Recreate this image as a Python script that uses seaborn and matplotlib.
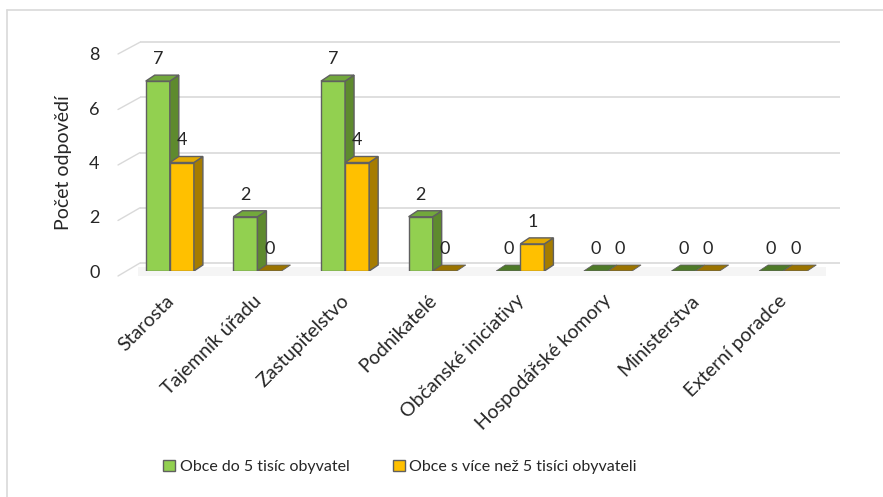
import matplotlib
matplotlib.use("Agg")
import matplotlib.pyplot as plt
import matplotlib.patches as mpatches
import matplotlib.transforms as mtransforms
from matplotlib.lines import Line2D
import seaborn as sns
import pandas as pd

categories = ["Starosta", "Tajemník úřadu", "Zastupitelstvo", "Podnikatelé",
              "Občanské iniciativy", "Hospodářské komory", "Ministerstva", "Externí poradce"]
series_names = ["Obce do 5 tisíc obyvatel", "Obce s více než 5 tisíci obyvateli"]
values_small = [7, 2, 7, 2, 0, 0, 0, 0]
values_large = [4, 0, 4, 0, 1, 0, 0, 0]
y_ticks = [0, 2, 4, 6, 8]
y_label = "Počet odpovědí"

df = pd.DataFrame({
    "kategorie": categories * 2,
    "serie": [series_names[0]] * len(categories) + [series_names[1]] * len(categories),
    "hodnota": values_small + values_large,
})

sns.set_style("white")
plt.rcParams["font.family"] = ["Lato", "DejaVu Sans"]

W, H = 883, 497
fig = plt.figure(figsize=(W / 100, H / 100), dpi=100)

# axes geometry in pixels
x_left, x_right = 126, 827
y_zero, y_top = 271, 54
ax = fig.add_axes([x_left / W, (H - y_zero) / H, (x_right - x_left) / W, (y_zero - y_top) / H])

front = {series_names[0]: "#92D050", series_names[1]: "#FFC000"}
top_c = {series_names[0]: "#72A83C", series_names[1]: "#E2AA00"}
side_c = {series_names[0]: "#5E8A2E", series_names[1]: "#A67C00"}
zero_c = {series_names[0]: "#4E7A28", series_names[1]: "#9A7300"}

sns.barplot(data=df, x="kategorie", y="hodnota", hue="serie", order=categories,
            hue_order=series_names, palette=front, width=0.55, dodge=True,
            edgecolor="#606060", linewidth=1.0, ax=ax, legend=False, saturation=1)

n = len(categories)
ax.set_xlim(-0.5, n - 0.5)
ax.set_ylim(0, 8)

px_x = (x_right - x_left) / n                  # pixels per x unit
px_y = (y_zero - y_top) / 8.0                  # pixels per y unit
ddx = 9 / px_x
ddy = 6 / px_y


def dx(px):
    return -0.5 + (px - x_left) / px_x


def dy(px):
    return (y_zero - px) / px_y


# back wall gridlines + diagonal connectors
for t in y_ticks:
    yb = dy(263 - t * 27.6)
    yf = dy(276 - t * 27.75)
    ax.plot([dx(140), dx(840)], [yb, yb], color="#D9D9D9", lw=1.2, zorder=0, clip_on=False,
            solid_capstyle="butt")
    ax.plot([dx(118), dx(140)], [yf, yb], color="#D9D9D9", lw=1.0, zorder=0, clip_on=False)

# faint floor shadow
ax.add_patch(mpatches.Rectangle((dx(138), dy(276)), dx(826) - dx(138), dy(267) - dy(276),
                                facecolor="#F5F5F5", edgecolor="none", zorder=0.5, clip_on=False))

# 3D faces built from the library's bars
bars = [b for b in ax.patches if isinstance(b, mpatches.Rectangle) and 0 < b.get_width() < 1]
for i, b in enumerate(bars[: 2 * n]):
    s = series_names[i // n]
    z = 2 if s == series_names[0] else 3
    b.set_zorder(z)
    x0 = b.get_x()
    w = b.get_width()
    h = b.get_height()
    x1 = x0 + w
    if h > 0:
        side = mpatches.Polygon([(x1, 0), (x1 + ddx, ddy), (x1 + ddx, h + ddy), (x1, h)],
                                closed=True, facecolor=side_c[s], edgecolor="#606060", lw=1.0, zorder=z)
        ax.add_patch(side)
        topf = mpatches.Polygon([(x0, h), (x0 + ddx, h + ddy), (x1 + ddx, h + ddy), (x1, h)],
                                closed=True, facecolor=top_c[s], edgecolor="#606060", lw=1.0, zorder=z)
        ax.add_patch(topf)
    else:
        b.set_visible(False)
        topf = mpatches.Polygon([(x0, 0), (x0 + ddx, ddy), (x1 + ddx, ddy), (x1, 0)],
                                closed=True, facecolor=zero_c[s], edgecolor="#606060", lw=0.6, zorder=z)
        ax.add_patch(topf)
    ax.annotate(f"{int(h)}", (x0 + w / 2, h), xytext=(0, 16), textcoords="offset points",
                ha="center", va="center", fontsize=13, color="#262626", zorder=5)

for sp in ax.spines.values():
    sp.set_visible(False)
ax.set_yticks(y_ticks)
ax.set_yticklabels([str(t) for t in y_ticks], fontsize=13, color="#262626")
ax.tick_params(axis="y", length=0, pad=19)
ax.set_ylabel(y_label, fontsize=14, color="#262626", labelpad=12)
ax.set_xlabel("")
ax.set_xticks(range(n))
ax.set_xticklabels(categories, rotation=45, ha="right", rotation_mode="anchor",
                   fontsize=14, color="#262626")
ax.tick_params(axis="x", length=0, pad=15)
shift = mtransforms.ScaledTranslation(-5 / 100, 0, fig.dpi_scale_trans)
for lab in ax.get_xticklabels():
    lab.set_transform(lab.get_transform() + shift)
ax.grid(False)
ax.set_facecolor("none")

handles = [mpatches.Patch(facecolor=front[s], edgecolor="#606060", lw=1.0, label=s) for s in series_names]
fig.legend(handles=handles, loc="center", bbox_to_anchor=(400 / W, (H - 467) / H), ncol=2,
           frameon=False, fontsize=11.5, handlelength=0.75, handleheight=0.75,
           handletextpad=0.3, columnspacing=2.7)

# outer frame (left and top edges visible)
fig.add_artist(Line2D([7 / W, 7 / W], [0, (H - 10) / H], color="#D9D9D9", lw=1.2))
fig.add_artist(Line2D([7 / W, 1], [(H - 10) / H, (H - 10) / H], color="#D9D9D9", lw=1.2))

fig.savefig("out.png", dpi=100)
